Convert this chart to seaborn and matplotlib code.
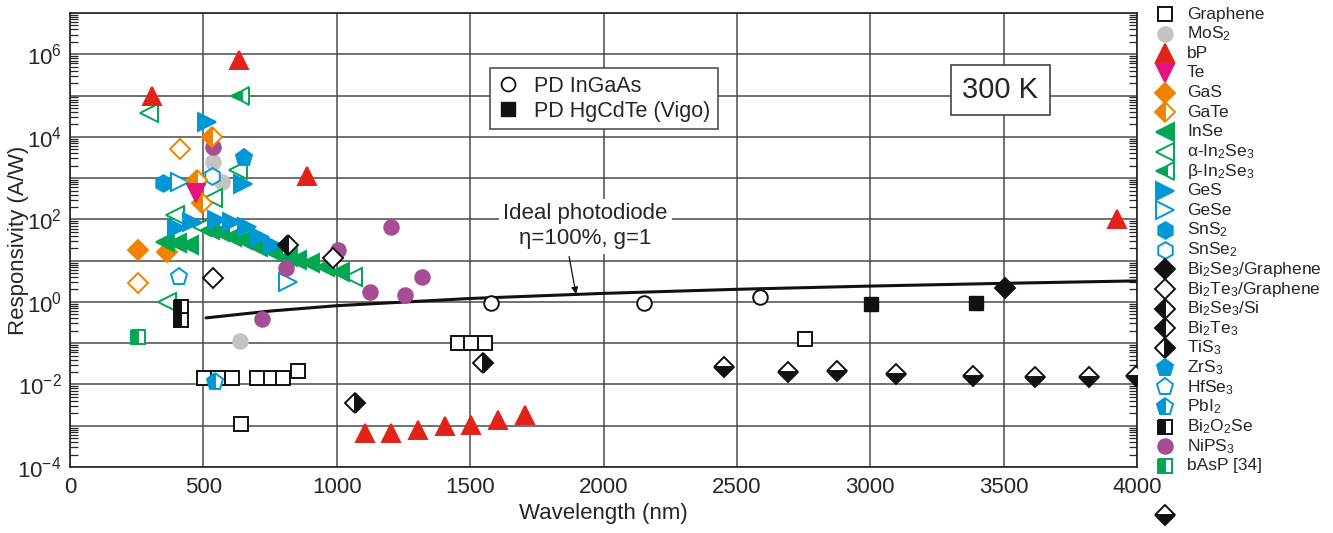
import numpy as np
import pandas as pd
import matplotlib
matplotlib.use('Agg')
import matplotlib.pyplot as plt
from matplotlib.lines import Line2D
from matplotlib.ticker import FixedLocator, FuncFormatter, NullFormatter
import seaborn as sns

sns.set_style('white')
plt.rcParams['font.family'] = ['Liberation Sans', 'DejaVu Sans']
plt.rcParams['mathtext.fontset'] = 'custom'
plt.rcParams['mathtext.rm'] = 'Liberation Sans'
plt.rcParams['mathtext.it'] = 'Liberation Sans:italic'
plt.rcParams['mathtext.bf'] = 'Liberation Sans:bold'

# ---------------- data (wavelength nm, responsivity A/W) ----------------
graphene_x = [502, 554, 607, 700, 753, 798, 854, 640, 1455, 1503, 1555, 2757]
graphene_y = [0.0145, 0.0145, 0.0145, 0.0145, 0.0145, 0.0145, 0.021, 0.0011, 0.10, 0.10, 0.10, 0.126]
mos2_x = [536, 570, 637]
mos2_y = [2500, 800, 0.11]
bp_x = [307, 633, 888, 3925, 1105, 1202, 1303, 1404, 1502, 1603, 1704]
bp_y = [1.0e5, 7.3e5, 1.1e3, 100, 6.6e-4, 6.6e-4, 7.9e-4, 1.0e-3, 1.05e-3, 1.4e-3, 1.8e-3]
te_x = [472]
te_y = [440]
gas_x = [255, 363]
gas_y = [18, 16]
gate_x = [532, 475, 495]
gate_y = [1.0e4, 900, 250]
gate_open_x = [412, 255]
gate_open_y = [5000, 2.9]
inse_x = [355, 400, 445, 524, 562, 607, 649, 705, 761, 817, 851, 900, 956, 1012]
inse_y = [28, 27, 24, 55, 49, 37, 32, 21, 16, 12, 10.4, 8.7, 7.0, 5.3]
ain2se3_x = [296, 630, 536, 393, 494, 1060, 363]
ain2se3_y = [3.8e4, 1.6e3, 330, 130, 65, 4.0, 1.0]
bin2se3_x = [637]
bin2se3_y = [1.0e5]
ges_x = [513, 649, 400, 456, 550, 607, 662, 711, 760]
ges_y = [2.3e4, 720, 62, 87, 95, 87, 65, 37, 24]
gese_x = [412, 816]
gese_y = [800, 3.0]
sns2_x = [348]
sns2_y = [760]
snse2_x = [532]
snse2_y = [1100]
bi2se3_gr_x = [3506]
bi2se3_gr_y = [2.2]
bi2te3_gr_x = [536, 985]
bi2te3_gr_y = [3.8, 11.5]
bi2te3_x = [816]
bi2te3_y = [24]
tis3_x = [1067, 1550]
tis3_y = [0.0035, 0.033]
zrs3_x = [652]
zrs3_y = [3100]
hfse3_x = [408]
hfse3_y = [4.0]
pbi2_x = [543]
pbi2_y = [0.0115]
bi2o2se_x = [415, 415]
bi2o2se_y = [0.76, 0.37]
nips3_x = [535, 809, 719, 1004, 1125, 1205, 1318, 1255]
nips3_y = [5600, 6.6, 0.39, 18, 1.7, 65, 4.0, 1.5]
basp_x = [255]
basp_y = [0.14]
other_x = [2453, 2693, 2876, 3097, 3386, 3618, 3820, 3996]
other_y = [0.026, 0.020, 0.021, 0.018, 0.016, 0.015, 0.015, 0.016]
ingaas_x = [1580, 2150, 2588]
ingaas_y = [0.93, 0.93, 1.3]
hgcdte_x = [3004, 3397]
hgcdte_y = [0.9, 0.95]
ideal_x = [510, 750, 1000, 1500, 2000, 2500, 3000, 3500, 4000]
ideal_y = [0.41, 0.60, 0.81, 1.21, 1.61, 2.02, 2.42, 2.82, 3.23]

legend_labels = ['Graphene', 'MoS$_2$', 'bP', 'Te', 'GaS', 'GaTe', 'InSe',
                 'α-In$_2$Se$_3$', 'β-In$_2$Se$_3$', 'GeS', 'GeSe', 'SnS$_2$', 'SnSe$_2$',
                 'Bi$_2$Se$_3$/Graphene', 'Bi$_2$Te$_3$/Graphene', 'Bi$_2$Se$_3$/Si',
                 'Bi$_2$Te$_3$', 'TiS$_3$', 'ZrS$_3$', 'HfSe$_3$', 'PbI$_2$',
                 'Bi$_2$O$_2$Se', 'NiPS$_3$', 'bAsP [34]']

# ---------------- styles ----------------
RED = '#e2231a'
MAG = '#e2127f'
ORA = '#f18200'
GRN = '#00a651'
BLU = '#0098d4'
PUR = '#a64d94'
GRY = '#c3c3c3'
BLK = '#111111'

def st(marker, color, fill='full', size=10, face=None):
    return dict(marker=marker, color=color, fill=fill, size=size, face=face)

styles = {
    'Graphene': st('s', BLK, size=9.5, face='white'),
    'MoS2': st('o', GRY, size=10.5),
    'bP': st('^', RED, size=13),
    'Te': st('v', MAG, size=13),
    'GaS': st('D', ORA, size=10),
    'GaTe': st('D', ORA, fill='left', size=10),
    'InSe': st('<', GRN, size=13),
    'aIn2Se3': st('<', GRN, size=13, face='white'),
    'bIn2Se3': st('<', GRN, fill='left', size=13),
    'GeS': st('>', BLU, size=13),
    'GeSe': st('>', BLU, size=13, face='white'),
    'SnS2': st('h', BLU, size=12),
    'SnSe2': st('h', BLU, size=12, face='white'),
    'Bi2Se3Gr': st('D', BLK, size=10),
    'Bi2Te3Gr': st('D', BLK, size=10, face='white'),
    'Bi2Se3Si': st('D', BLK, fill='left', size=10),
    'Bi2Te3': st('D', BLK, fill='left', size=10),
    'TiS3': st('D', BLK, fill='right', size=10),
    'ZrS3': st('p', BLU, size=12.5),
    'HfSe3': st('p', BLU, size=12.5, face='white'),
    'PbI2': st('p', BLU, fill='left', size=12.5),
    'Bi2O2Se': st('s', BLK, fill='left', size=9.5),
    'NiPS3': st('o', PUR, size=10.5),
    'bAsP': st('s', GRN, fill='left', size=9.5),
    'other': st('D', BLK, fill='bottom', size=10),
    'GaTeOpen': st('D', ORA, size=10, face='white'),
}
legend_keys = ['Graphene', 'MoS2', 'bP', 'Te', 'GaS', 'GaTe', 'InSe', 'aIn2Se3', 'bIn2Se3',
               'GeS', 'GeSe', 'SnS2', 'SnSe2', 'Bi2Se3Gr', 'Bi2Te3Gr', 'Bi2Se3Si', 'Bi2Te3',
               'TiS3', 'ZrS3', 'HfSe3', 'PbI2', 'Bi2O2Se', 'NiPS3', 'bAsP']

def mkw(s):
    kw = dict(marker=s['marker'], markersize=s['size'], markeredgecolor=s['color'],
              markeredgewidth=1.4, fillstyle=s['fill'], markerfacecoloralt='white')
    kw['markerfacecolor'] = s['face'] if s['face'] else s['color']
    return kw

fig = plt.figure(figsize=(13.33, 5.33), dpi=100)
ax = fig.add_axes([70/1333, 1-467/533, (1137-70)/1333, (467-13)/533])
ax.set_yscale('log')
ax.set_xlim(0, 4000)
ax.set_ylim(1e-4, 1e7)

# ideal photodiode
sns.lineplot(data=pd.DataFrame({'x': ideal_x, 'y': ideal_y}), x='x', y='y', ax=ax,
             estimator=None, sort=False, color='#111111', linewidth=2.2, legend=False)

series = [
    ('Graphene', graphene_x, graphene_y), ('MoS2', mos2_x, mos2_y),
    ('GaTeOpen', gate_open_x, gate_open_y), ('GaS', gas_x, gas_y),
    ('aIn2Se3', ain2se3_x, ain2se3_y), ('bIn2Se3', bin2se3_x, bin2se3_y),
    ('InSe', inse_x, inse_y), ('GeS', ges_x, ges_y), ('GeSe', gese_x, gese_y),
    ('SnS2', sns2_x, sns2_y), ('SnSe2', snse2_x, snse2_y), ('ZrS3', zrs3_x, zrs3_y),
    ('HfSe3', hfse3_x, hfse3_y), ('PbI2', pbi2_x, pbi2_y), ('Bi2O2Se', bi2o2se_x, bi2o2se_y),
    ('bAsP', basp_x, basp_y), ('NiPS3', nips3_x, nips3_y), ('GaTe', gate_x, gate_y),
    ('Te', te_x, te_y), ('bP', bp_x, bp_y), ('Bi2Se3Gr', bi2se3_gr_x, bi2se3_gr_y),
    ('Bi2Te3Gr', bi2te3_gr_x, bi2te3_gr_y), ('Bi2Te3', bi2te3_x, bi2te3_y),
    ('TiS3', tis3_x, tis3_y), ('other', other_x, other_y),
]
for key, xs, ys in series:
    s = styles[key]
    sns.lineplot(data=pd.DataFrame({'x': xs, 'y': ys}), x='x', y='y', ax=ax,
                 estimator=None, sort=False, linestyle='', legend=False,
                 color=s['color'], zorder=3, **mkw(s))

# PD references
sns.lineplot(data=pd.DataFrame({'x': ingaas_x, 'y': ingaas_y}), x='x', y='y', ax=ax,
             estimator=None, sort=False, linestyle='', legend=False, color=BLK, zorder=3,
             marker='o', markersize=10.5, markerfacecolor='white', markeredgecolor=BLK,
             markeredgewidth=1.4)
sns.lineplot(data=pd.DataFrame({'x': hgcdte_x, 'y': hgcdte_y}), x='x', y='y', ax=ax,
             estimator=None, sort=False, linestyle='', legend=False, color=BLK, zorder=3,
             marker='s', markersize=10.5, markerfacecolor=BLK, markeredgecolor=BLK,
             markeredgewidth=1.0)

# axes styling
ax.set_axisbelow(True)
ax.grid(True, which='major', color='#4a4a4a', linewidth=1.1)
ax.xaxis.set_major_locator(FixedLocator(np.arange(0, 4001, 500)))
ax.yaxis.set_major_locator(FixedLocator([10.0**k for k in range(-4, 8)]))
ax.yaxis.set_minor_locator(FixedLocator([m * 10.0**k for k in range(-4, 7) for m in range(2, 10)]))
ax.yaxis.set_minor_formatter(NullFormatter())
ax.yaxis.set_major_formatter(FuncFormatter(
    lambda v, p: (r'$\mathregular{10^{%d}}$' % round(np.log10(v))) if round(np.log10(v)) % 2 == 0 and round(np.log10(v)) < 7 else ''))
ax.tick_params(axis='x', length=0, labelsize=16, pad=7)
ax.tick_params(axis='y', which='major', direction='in', length=0, labelsize=16, pad=6, right=True)
ax.tick_params(axis='y', which='minor', direction='in', length=6, width=0.9, right=True, left=True)
for sp in ax.spines.values():
    sp.set_color('#222222')
    sp.set_linewidth(1.2)
ax.set_xlabel('Wavelength (nm)', fontsize=16, labelpad=4)
ax.set_ylabel('Responsivity (A/W)', fontsize=16)
ax.yaxis.set_label_coords(-0.038, 0.5)

# text annotations
ax.text(0.483, 0.53, 'Ideal photodiode\nη=100%, g=1', transform=ax.transAxes,
        ha='center', va='center', fontsize=16, linespacing=1.25,
        bbox=dict(facecolor='white', edgecolor='none', pad=3), zorder=4)
ax.annotate('', xy=(1897, 1.55), xytext=(1871, 12.5),
            arrowprops=dict(arrowstyle='-|>', color='#111111', lw=0.9, mutation_scale=10,
                            shrinkA=0, shrinkB=0), zorder=4)
ax.text(0.872, 0.830, '300 K', transform=ax.transAxes, ha='center', va='center',
        fontsize=21, bbox=dict(boxstyle='square,pad=0.38', facecolor='white',
                               edgecolor='#444444', linewidth=1.2), zorder=4)

pd_handles = [Line2D([], [], linestyle='', marker='o', markersize=10, markerfacecolor='white',
                     markeredgecolor=BLK, markeredgewidth=1.3),
              Line2D([], [], linestyle='', marker='s', markersize=10, markerfacecolor=BLK,
                     markeredgecolor=BLK)]
leg = ax.legend(pd_handles, ['PD InGaAs', 'PD HgCdTe (Vigo)'], loc='upper left',
                bbox_to_anchor=((490-70)/1067, (467-68)/454), fontsize=15.5, frameon=True,
                fancybox=False, framealpha=1, edgecolor='#444444', handlelength=1.0,
                handletextpad=0.7, borderpad=0.35, labelspacing=0.2, borderaxespad=0)
leg.get_frame().set_linewidth(1.1)
leg.set_zorder(5)

# material legend on the right
mx, tx = 1165/1333, 1187/1333
for i, (key, lab) in enumerate(zip(legend_keys, legend_labels)):
    yy = 1 - (14 + i*19.65)/533
    s = styles[key]
    fig.add_artist(Line2D([mx], [yy], transform=fig.transFigure, linestyle='', **mkw(s)))
    fig.text(tx, yy, lab, fontsize=12.5, ha='left', va='center')
s = styles['other']
fig.add_artist(Line2D([mx], [1 - 515/533], transform=fig.transFigure, linestyle='', **mkw(s)))

fig.savefig('out.png', dpi=100)
